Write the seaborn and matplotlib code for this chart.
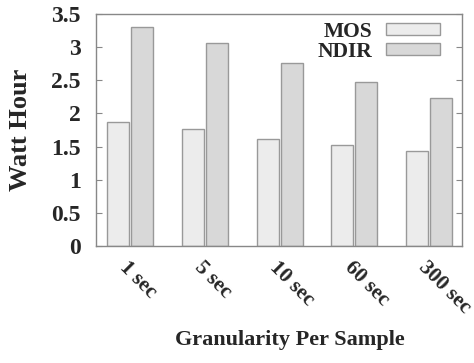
import matplotlib
matplotlib.use("Agg")
import matplotlib.pyplot as plt
import seaborn as sns
import pandas as pd

categories = ["1 sec", "5 sec", "10 sec", "60 sec", "300 sec"]
mos = [1.87, 1.77, 1.61, 1.52, 1.44]
ndir = [3.30, 3.06, 2.76, 2.47, 2.24]
series = ["MOS", "NDIR"]
yticks = [0, 0.5, 1, 1.5, 2, 2.5, 3, 3.5]
ytick_labels = ["0", "0.5", "1", "1.5", "2", "2.5", "3", "3.5"]

df = pd.DataFrame({
    "Granularity": categories * 2,
    "Watt Hour": mos + ndir,
    "Sensor": [series[0]] * len(categories) + [series[1]] * len(categories),
})

sns.set_style("white")
plt.rcParams["font.family"] = ["Liberation Serif", "DejaVu Serif"]
plt.rcParams["font.weight"] = "bold"

fig = plt.figure(figsize=(4.74, 3.63), dpi=100)
ax = fig.add_axes([96 / 474, 1 - 246 / 363, 366 / 474, 232 / 363])

palette = {"MOS": "#ececec", "NDIR": "#d8d8d8"}
sns.barplot(data=df, x="Granularity", y="Watt Hour", hue="Sensor",
            order=categories, hue_order=series, palette=palette,
            width=0.64, gap=0.08, edgecolor="#999999", linewidth=1.0,
            saturation=1, ax=ax, legend=True)

ax.set_xlim(-0.455, 4.44)
ax.set_ylim(0, 3.5)
ax.set_yticks(yticks)
ax.set_yticklabels(ytick_labels, fontsize=17, fontweight="bold")
ax.set_xticks(range(len(categories)))
ax.set_xticklabels(categories, fontsize=15.5, fontweight="bold",
                   rotation=-45, ha="left", va="top", rotation_mode="anchor")
ax.tick_params(axis="y", direction="in", length=4, color="#888888",
               left=True, right=True, pad=11)
ax.tick_params(axis="x", length=0, pad=8)
for s in ax.spines.values():
    s.set_color("#888888")
    s.set_linewidth(1.0)

ax.set_ylabel("Watt Hour", fontsize=19, fontweight="bold")
ax.yaxis.set_label_coords(-0.175, 0.5)
ax.set_xlabel("Granularity Per Sample", fontsize=16, fontweight="bold")
ax.xaxis.set_label_coords(0.53, -0.36)

leg = ax.legend(loc="upper right", bbox_to_anchor=(1.0, 1.06),
                frameon=False, markerfirst=False,
                handlelength=2.55, handleheight=0.55,
                prop={"weight": "bold", "size": 15.5},
                borderaxespad=0.6, labelspacing=0.0, handletextpad=0.6)

fig.savefig("out.png", dpi=100)
